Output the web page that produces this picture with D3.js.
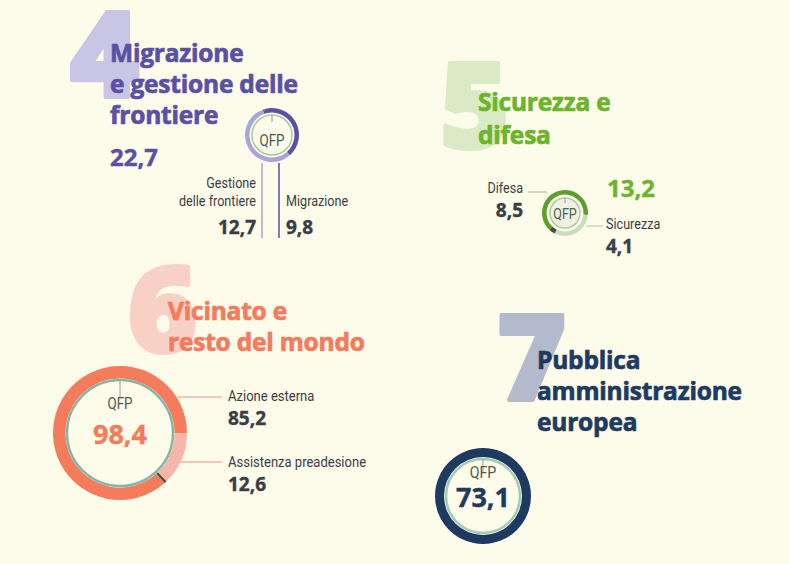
<!DOCTYPE html>
<html>
<head>
<meta charset="utf-8">
<script src="https://cdn.jsdelivr.net/npm/d3@7"></script>
<style>
  body { margin: 0; background: #fdfbea; }
  svg { display: block; }
</style>
</head>
<body>
<svg></svg>
<script>
//data - values in miliardi di euro
const headingNumbers = ["4", "5", "6", "7"];
const totals = [22.7, 13.2, 98.4, 73.1];

const title4 = ["Migrazione", "e gestione delle", "frontiere"];
const title5 = ["Sicurezza e", "difesa"];
const title6 = ["Vicinato e", "resto del mondo"];
const title7 = ["Pubblica", "amministrazione", "europea"];

//segments, in clockwise order (the small "altro" piece is the dark tick)
const seg4Labels = ["altro", "Migrazione", "Gestione delle frontiere"];
const seg4Values = [0.2, 9.8, 12.7];
const seg5Labels = ["Sicurezza", "altro", "Difesa"];
const seg5Values = [4.1, 0.6, 8.5];
const seg6Labels = ["Assistenza preadesione", "altro", "Azione esterna"];
const seg6Values = [12.6, 0.6, 85.2];
const seg7Labels = ["Pubblica amministrazione europea"];
const seg7Values = [73.1];

//svg size
const width = 789;
const height = 564;

var svg = d3.select('svg')
    .attr('width', width)
    .attr('height', height);

svg.append('rect')
   .attr('width', width)
   .attr('height', height)
   .attr('fill', '#fdfbea');

//fonts
var titleFont = "'Open Sans', 'DejaVu Sans', sans-serif";
var labelFont = "'Roboto', 'DejaVu Sans Condensed', sans-serif";
var narrow = 0.84; //squeeze for the condensed look
var textGrey = '#3b3d46';

//italian number format 12,7
var it = d3.formatLocale({decimal: ',', thousands: '.', grouping: [3], currency: ['', '€']});
var fmt = it.format('.1f');

var deg = Math.PI / 180;

//big faded number + coloured title
var heading = function(num, x, y, numCol, lines, tx, ty, lineH, col) {
    svg.append('text')
       .text(num)
       .attr('x', x)
       .attr('y', y)
       .attr('font-family', titleFont)
       .attr('font-weight', 800)
       .attr('font-size', 118)
       .attr('fill', numCol)
       .attr('stroke', numCol)
       .attr('stroke-width', 4)
       .attr('stroke-linejoin', 'round');

    svg.append('g').selectAll('text')
       .data(lines)
       .join('text')
       .text(d => d)
       .attr('x', tx)
       .attr('y', (d, i) => ty + i * lineH)
       .attr('font-family', titleFont)
       .attr('font-weight', 700)
       .attr('font-size', 24.5)
       .attr('letter-spacing', -0.2)
       .attr('fill', col)
       .attr('stroke', col)
       .attr('stroke-width', 0.7);
};

//ring chart - returns group
var ring = function(cx, cy, rOut, thick, values, colors, start, innerR, innerStroke, innerFill, innerW) {
    var g = svg.append('g').attr('transform', 'translate(' + [cx, cy] + ')');
    var pie = d3.pie().sort(null).value(d => d)
        .startAngle(start * deg)
        .endAngle(start * deg + 2 * Math.PI);
    var arc = d3.arc().innerRadius(rOut - thick).outerRadius(rOut);

    g.selectAll('path')
     .data(pie(values))
     .join('path')
     .attr('d', arc)
     .attr('fill', (d, i) => colors[i]);

    //inner circle
    g.append('circle')
     .attr('r', innerR)
     .attr('fill', innerFill)
     .attr('stroke', innerStroke)
     .attr('stroke-width', innerW);

    //little tick at the top
    g.append('line')
     .attr('x1', 0).attr('x2', 0)
     .attr('y1', -innerR)
     .attr('y2', -innerR + innerR * 0.35)
     .attr('stroke', '#9a9a9a')
     .attr('stroke-width', 1);
    return g;
};

//condensed label text
var label = function(txt, x, y, anchor, size) {
    return svg.append('text')
       .text(txt)
       .attr('transform', 'translate(' + [x, y] + ') scale(' + narrow + ',1)')
       .attr('text-anchor', anchor)
       .attr('font-family', labelFont)
       .attr('font-size', size)
       .attr('fill', textGrey);
};

var value = function(v, x, y, anchor, size, col) {
    return svg.append('text')
       .text(fmt(v))
       .attr('x', x)
       .attr('y', y)
       .attr('text-anchor', anchor)
       .attr('font-family', titleFont)
       .attr('font-weight', 700)
       .attr('font-size', size)
       .attr('fill', col)
       .attr('stroke', col)
       .attr('stroke-width', 0.4);
};

var line = function(x1, y1, x2, y2, col) {
    svg.append('line')
       .attr('x1', x1).attr('y1', y1)
       .attr('x2', x2).attr('y2', y2)
       .attr('stroke', col)
       .attr('stroke-width', 1.5);
};

// ---------- 4 Migrazione ----------
var purple = '#5a50a6';
var purpleLight = '#aaa5d8';
heading(headingNumbers[0], 70, 97, '#c9c5e4', title4, 110, 62, 31, purple);
value(totals[0], 110, 166, 'start', 24, purple);

var c4 = {x: 272, y: 135};
ring(c4.x, c4.y, 27, 4.5, seg4Values, ['#4a4a4a', purple, purpleLight], -20, 20, '#9fcfaa', 'none', 1.5);
label('QFP', c4.x, c4.y + 11, 'middle', 16).attr('fill', '#4f5a55');

//leader lines hanging from the ring
line(c4.x - 10, c4.y + 28, c4.x - 10, c4.y + 103, purpleLight);
line(c4.x + 7, c4.y + 28, c4.x + 7, c4.y + 103, purple);

label('Gestione', c4.x - 16, 188, 'end', 15);
label('delle frontiere', c4.x - 16, 206, 'end', 15);
value(seg4Values[2], c4.x - 16, 234, 'end', 19, textGrey);
label(seg4Labels[1], c4.x + 14, 206, 'start', 15);
value(seg4Values[1], c4.x + 14, 234, 'start', 19, textGrey);

// ---------- 5 Sicurezza ----------
var green = '#6cb42d';
var greenDark = '#5e9f2c';
var greenLight = '#cadcbc';
heading(headingNumbers[1], 440, 148, '#d9eac6', title5, 478, 111, 33, green);

var c5 = {x: 565, y: 213};
ring(c5.x, c5.y, 23, 4.5, seg5Values, [greenLight, '#4a4a4a', greenDark], 95, 15, '#b3c7ae', '#eff2e0', 1.5);
label('QFP', c5.x, c5.y + 6, 'middle', 15).attr('fill', '#4f5a55');

value(totals[1], 607, 197, 'start', 24, green);

line(528, 192, c5.x - 18, 192, '#b9d1a8');
label(seg5Labels[2], 523, 193, 'end', 15);
value(seg5Values[2], 523, 217, 'end', 19, textGrey);

line(c5.x + 21, 226, 603, 226, '#c7d8bb');
label(seg5Labels[0], 606, 229, 'start', 15);
value(seg5Values[0], 606, 253, 'start', 19, textGrey);

// ---------- 6 Vicinato ----------
var coral = '#f47b5b';
var coralLight = '#f6b6ab';
heading(headingNumbers[2], 128, 352, '#f9d0c6', title6, 168, 320, 31, coral);

var c6 = {x: 120, y: 433};
ring(c6.x, c6.y, 67, 12.5, seg6Values, [coralLight, '#4a4a4a', coral], 90, 53, '#86b5a6', 'none', 2.5);
label('QFP', c6.x, 409, 'middle', 16).attr('fill', '#4f5a55');
value(totals[2], c6.x, 444, 'middle', 27, coral);

line(c6.x + 58, 397, 222, 397, '#f5b0a3');
label(seg6Labels[2], 228, 401, 'start', 15.5);
value(seg6Values[2], 228, 425, 'start', 19, textGrey);

line(c6.x + 60, 462, 222, 462, '#f5b0a3');
label(seg6Labels[0], 228, 467, 'start', 15.5);
value(seg6Values[0], 228, 491, 'start', 19, textGrey);

// ---------- 7 Pubblica amministrazione ----------
var navy = '#1f3a60';
heading(headingNumbers[3], 497, 400, '#b3bacb', title7, 537, 369, 31, navy);

var c7 = {x: 483, y: 496};
ring(c7.x, c7.y, 48, 9, seg7Values, [navy], 0, 37, '#a0cdb5', 'none', 2.5);
label('QFP', c7.x, 478, 'middle', 17).attr('fill', '#4f5a55');
value(totals[3], c7.x, 507, 'middle', 27, navy);
</script>
</body>
</html>
